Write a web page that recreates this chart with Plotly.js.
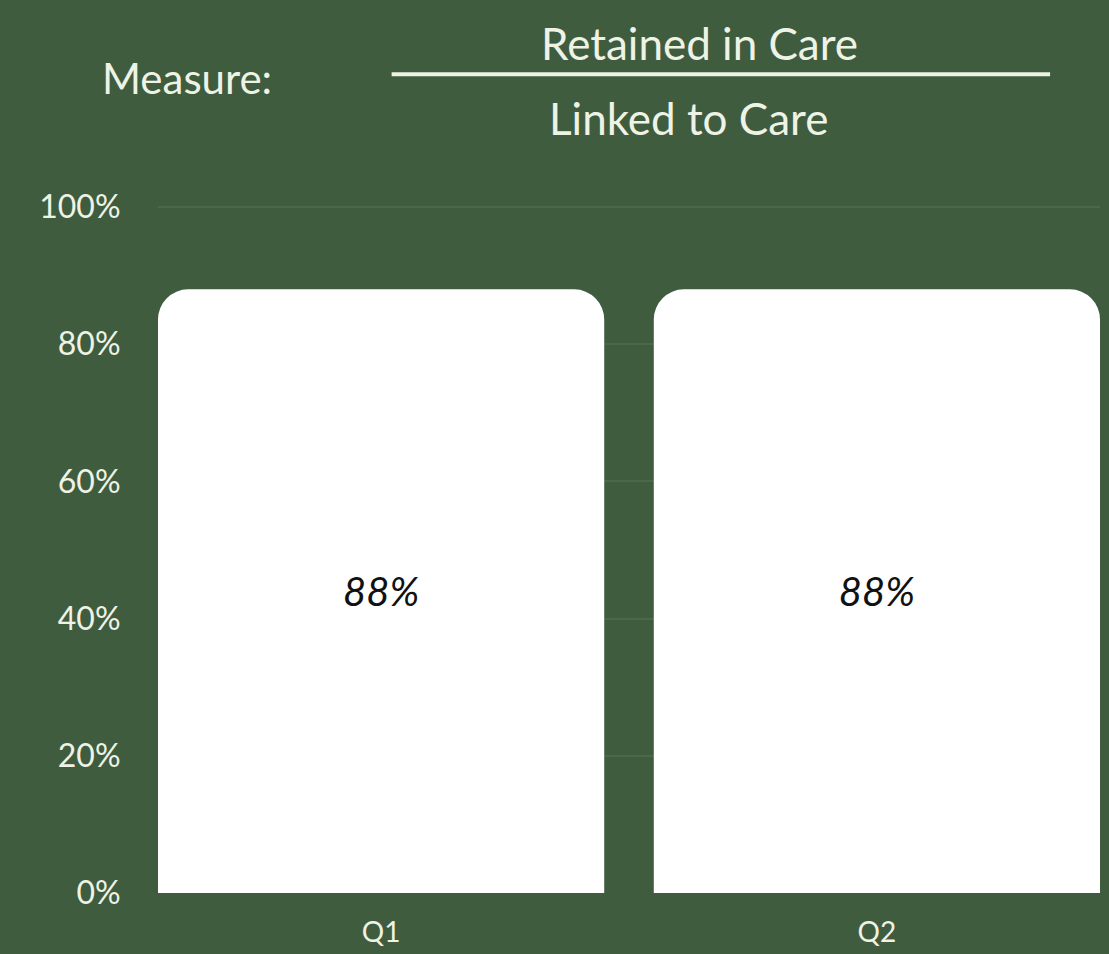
<!DOCTYPE html>
<html>
<head>
<meta charset="utf-8">
<script src="https://cdn.plot.ly/plotly-3.0.1.min.js"></script>
<style>
html,body{margin:0;padding:0;background:#3f5c3f;}
#chart{width:1109px;height:954px;}
</style>
</head>
<body>
<div id="chart"></div>
<script>
const categories = ["Q1", "Q2"];
const values = [88, 88];
const tickValues = [0, 20, 40, 60, 80, 100];
const tickLabels = ["0%", "20%", "40%", "60%", "80%", "100%"];
const titleLabel = "Measure:";
const numerator = "Retained in Care";
const denominator = "Linked to Care";

const chalk = "#eef3e6";
const fontFam = "Lato, 'Noto Sans', sans-serif";

const trace = {
  type: "bar",
  x: categories,
  y: values,
  width: 0.9,
  marker: { color: "#ffffff", cornerradius: 30, line: { width: 0 } },
  text: values.map(v => v + "%"),
  textposition: "inside",
  insidetextanchor: "middle",
  textfont: { color: "#111111", size: 40, family: fontFam, style: "italic" },
  hoverinfo: "skip"
};

const layout = {
  width: 1109,
  height: 954,
  paper_bgcolor: "#3f5c3f",
  plot_bgcolor: "#3f5c3f",
  margin: { l: 158, r: 9, t: 205, b: 61 },
  showlegend: false,
  font: { family: fontFam, color: chalk },
  xaxis: {
    type: "category",
    range: [-0.45, 1.45],
    showgrid: false,
    zeroline: false,
    showline: false,
    ticks: "outside",
    ticklen: 14,
    tickcolor: "rgba(0,0,0,0)",
    tickfont: { size: 28, color: chalk, family: fontFam }
  },
  yaxis: {
    range: [0, 100.3],
    tickvals: tickValues,
    ticktext: tickLabels,
    showgrid: true,
    gridcolor: "rgba(255,255,255,0.07)",
    gridwidth: 2,
    zeroline: false,
    showline: false,
    ticks: "outside",
    ticklen: 30,
    tickcolor: "rgba(0,0,0,0)",
    tickfont: { size: 32, color: chalk, family: fontFam }
  },
  annotations: [
    { text: titleLabel, xref: "paper", yref: "paper", x: -0.062, y: 1.185, xanchor: "left", yanchor: "middle",
      showarrow: false, font: { size: 42, color: chalk, family: fontFam } },
    { text: numerator, xref: "paper", yref: "paper", x: 0.575, y: 1.236, xanchor: "center", yanchor: "middle",
      showarrow: false, font: { size: 44, color: chalk, family: fontFam } },
    { text: denominator, xref: "paper", yref: "paper", x: 0.563, y: 1.127, xanchor: "center", yanchor: "middle",
      showarrow: false, font: { size: 44, color: chalk, family: fontFam } }
  ],
  shapes: [
    { type: "line", xref: "paper", yref: "paper", x0: 0.248, x1: 0.947, y0: 1.19, y1: 1.19,
      line: { color: chalk, width: 4 } }
  ]
};

Plotly.newPlot("chart", [trace], layout, { displayModeBar: false, staticPlot: true });
</script>
</body>
</html>
